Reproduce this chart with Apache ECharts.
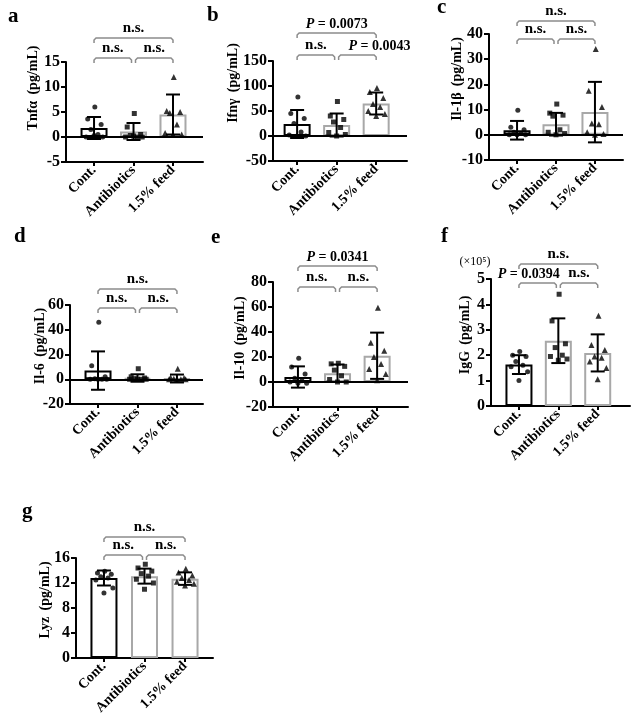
<!DOCTYPE html>
<html><head><meta charset="utf-8">
<script src="https://cdn.jsdelivr.net/npm/echarts@6/dist/echarts.min.js"></script>
<style>html,body{margin:0;padding:0;background:#fff}#c{width:632px;height:720px}</style>
</head><body><div id="c"></div>
<script>
// ---------- data ----------
const CATEGORIES = ['Cont.', 'Antibiotics', '1.5% feed'];

const tnfMean = [1.8, 1.1, 4.5];
const tnfSD = [2.2, 1.7, 4.0];
const tnfPoints = [[6.0, 3.6, 2.5, 1.5, 0.5, 0, 0, 0.3], [4.7, 2.0, 0.5, 0.3, 0, 0, 0, 0.2], [12.0, 5.2, 5.0, 4.8, 2.5, 0.8, 0.5, 0.5]];
const tnfSig = ['n.s.', 'n.s.', 'n.s.'];

const ifnMean = [24, 22, 65];
const ifnSD = [28, 23, 22];
const ifnPoints = [[78, 45, 35, 25, 8, 2, 0, 0], [69, 40, 33, 28, 17, 7, 3, 0], [96, 88, 76, 64, 58, 50, 44, 40]];
const ifnSig = ['n.s.', 'P = 0.0043', 'P = 0.0073'];

const il1bMean = [1.8, 4.2, 9.0];
const il1bSD = [3.7, 4.5, 12.0];
const il1bPoints = [[9.7, 3, 2, 1, 0.5, 0, 0, 0], [12.2, 8.6, 7.8, 7.4, 2, 1, 0.5, 0], [34, 17.5, 11, 4.5, 4.2, 1, 0.3, 0]];
const il1bSig = ['n.s.', 'n.s.', 'n.s.'];

const il6Mean = [7.0, 1.0, 0.6];
const il6SD = [15.5, 3.0, 3.2];
const il6Points = [[46, 11, 2, 0.5, 0, 0, 0, 0], [8.5, 2, 1, 0.5, 0, 0, 0, 0], [8.5, 1.5, 1, 0.5, 0, 0, 0, 0]];
const il6Sig = ['n.s.', 'n.s.', 'n.s.'];

const il10Mean = [4.0, 7.0, 21.0];
const il10SD = [8.5, 7.0, 18.5];
const il10Points = [[19, 12, 6.5, 3, 1, 0, -1, -1], [15, 14.5, 12.5, 9.5, 5, 2, 0, 0], [59.5, 31.5, 25, 20, 14.5, 10.5, 6.5, 1.5]];
const il10Sig = ['n.s.', 'n.s.', 'P = 0.0341'];

const iggMean = [1.63, 2.57, 2.09];
const iggSD = [0.37, 0.88, 0.73];
const iggPoints = [[2.15, 2.0, 1.95, 1.75, 1.6, 1.55, 1.35, 1.0], [4.4, 3.35, 2.45, 2.3, 2.0, 1.95, 1.85, 1.8], [3.55, 2.4, 2.2, 1.95, 1.9, 1.75, 1.5, 1.05]];
const iggSig = ['P = 0.0394', 'n.s.', 'n.s.'];

const lyzMean = [12.8, 13.1, 12.7];
const lyzSD = [1.2, 1.2, 1.0];
const lyzPoints = [[13.9, 13.6, 13.4, 13.0, 12.8, 12.5, 11.2, 10.4], [15.0, 14.4, 13.9, 13.5, 13.1, 12.6, 12.0, 11.0], [14.3, 13.7, 13.2, 12.8, 12.5, 12.2, 11.9, 11.6]];
const lyzSig = ['n.s.', 'n.s.', 'n.s.'];

// ---------- layout / style ----------
const FONT = '"Liberation Serif", "Times New Roman", serif';
const JITTER = [0.02, -0.16, 0.18, -0.08, 0.1, -0.2, 0.22, 0.0];
const SYMBOLS = ['circle', 'rect', 'triangle'];
const SYMSIZE = [5, 5, 6];
const BORDER = ['#000000', '#a8a8a8', '#a8a8a8'];
const BRACKET_COLOR = '#8c8c8c';

const panels = [
  {letter:'a', name:'Tnf\u03b1 \u2009(pg/mL)', mean:tnfMean, sd:tnfSD, pts:tnfPoints, sig:tnfSig, y:[-5,15,5],
   box:[66,62,137,100], xr:[-0.71,2.76], lp:[8,27], np:[33,88], br:[58,38], zero:true, dx:[0,0,0]},
  {letter:'b', name:'Ifn\u03b3 \u2009(pg/mL)', mean:ifnMean, sd:ifnSD, pts:ifnPoints, sig:ifnSig, y:[-50,150,50],
   box:[273,61,134,100], xr:[-0.61,2.78], lp:[207,26], np:[233,83], br:[55,33], zero:true, dx:[0,22,0]},
  {letter:'c', name:'Il-1\u03b2 \u2009(pg/mL)', mean:il1bMean, sd:il1bSD, pts:il1bPoints, sig:il1bSig, y:[-10,40,10],
   box:[489,34,134,126], xr:[-0.72,2.72], lp:[437,18], np:[457,79], br:[39,21], zero:true, dx:[0,0,0]},
  {letter:'d', name:'Il-6 \u2009(pg/mL)', mean:il6Mean, sd:il6SD, pts:il6Points, sig:il6Sig, y:[-20,60,20],
   box:[70,305,133,99], xr:[-0.71,2.66], lp:[14,247], np:[40,346], br:[308,289], zero:true, dx:[0,0,0]},
  {letter:'e', name:'Il-10 \u2009(pg/mL)', mean:il10Mean, sd:il10SD, pts:il10Points, sig:il10Sig, y:[-20,80,20],
   box:[273,282,135,125], xr:[-0.63,2.78], lp:[211,248], np:[240,338], br:[287,266], zero:true, dx:[0,0,0]},
  {letter:'f', name:'IgG \u2009(pg/mL)', mean:iggMean, sd:iggSD, pts:iggPoints, sig:iggSig, y:[0,5,1],
   box:[491,279,139,127], xr:[-0.71,2.82], lp:[441,247], np:[465,335], br:[283,264], zero:false, dx:[-9,0,0]},
  {letter:'g', name:'Lyz \u2009(pg/mL)', mean:lyzMean, sd:lyzSD, pts:lyzPoints, sig:lyzSig, y:[0,16,4],
   box:[76,558,137,100], xr:[-0.69,2.69], lp:[22,522], np:[45,600], br:[555,537], zero:false, dx:[0,0,0]}
];

function richLabel(s) {
  return s.indexOf('P') === 0 ? '{i|P}' + s.slice(1) : s;
}

const grid = [], xAxis = [], yAxis = [], series = [], graphic = [];

panels.forEach((P, i) => {
  grid.push({left:P.box[0], top:P.box[1], width:P.box[2], height:P.box[3], containLabel:false});
  xAxis.push({
    type:'value', gridIndex:i, min:P.xr[0], max:P.xr[1],
    axisLine:{show:true, onZero:false, lineStyle:{color:'#000', width:2}},
    axisTick:{show:true, customValues:[0,1,2], length:4, lineStyle:{color:'#000', width:2}},
    axisLabel:{show:true, customValues:[0,1,2], rotate:45, margin:6, color:'#000',
      fontFamily:FONT, fontWeight:'bold', fontSize:14,
      formatter:v => CATEGORIES[Math.round(v)]},
    splitLine:{show:false}
  });
  yAxis.push({
    type:'value', gridIndex:i, min:P.y[0], max:P.y[1], interval:P.y[2],
    axisLine:{show:true, onZero:false, lineStyle:{color:'#000', width:2}},
    axisTick:{show:true, length:5, lineStyle:{color:'#000', width:2}},
    axisLabel:{color:'#000', fontFamily:FONT, fontWeight:'bold', fontSize:16, margin:6},
    splitLine:{show:false}
  });

  const bar = {
    type:'bar', xAxisIndex:i, yAxisIndex:i, barWidth:27, z:2, silent:true,
    data:P.mean.map((m, j) => ({value:[j, m], itemStyle:{borderColor:BORDER[j]}})),
    itemStyle:{color:'#ffffff', borderWidth:2}
  };
  if (P.zero) {
    bar.markLine = {silent:true, symbol:'none', label:{show:false}, z:5,
      lineStyle:{color:'#000', width:2, type:'solid'}, data:[{yAxis:0}]};
  }
  series.push(bar);

  series.push({
    type:'custom', xAxisIndex:i, yAxisIndex:i, z:3, silent:true,
    encode:{x:0, y:[1,2]},
    data:P.mean.map((m, j) => [j, m - P.sd[j], m + P.sd[j]]),
    renderItem:(params, api) => {
      const x = api.value(0);
      const hi = api.coord([x, api.value(2)]);
      const lo = api.coord([x, api.value(1)]);
      const cw = 7;
      const st = {stroke:'#000', lineWidth:2};
      return {type:'group', children:[
        {type:'line', shape:{x1:hi[0], y1:hi[1], x2:lo[0], y2:lo[1]}, style:st},
        {type:'line', shape:{x1:hi[0]-cw, y1:hi[1], x2:hi[0]+cw, y2:hi[1]}, style:st},
        {type:'line', shape:{x1:lo[0]-cw, y1:lo[1], x2:lo[0]+cw, y2:lo[1]}, style:st}
      ]};
    }
  });

  P.pts.forEach((arr, j) => {
    series.push({
      type:'scatter', xAxisIndex:i, yAxisIndex:i, z:4, silent:true,
      symbol:SYMBOLS[j], symbolSize:SYMSIZE[j],
      itemStyle:{color:'#000'},
      data:arr.map((v, k) => [j + JITTER[k], v])
    });
  });

  // significance brackets: [from, to, level, sigIndex]
  series.push({
    type:'custom', xAxisIndex:i, yAxisIndex:i, z:6, silent:true, clip:false,
    encode:{x:[0,1]},
    data:[[0,1,0,0],[1,2,0,1],[0,2,1,2]],
    renderItem:(params, api) => {
      const from = api.value(0), to = api.value(1), level = api.value(2), idx = api.value(3);
      let x1 = api.coord([from, P.y[0]])[0], x2 = api.coord([to, P.y[0]])[0];
      if (level === 0) { if (from === 1) x1 += 2; if (to === 1) x2 -= 2; }
      const y = level === 0 ? P.br[0] : P.br[1];
      const d = 5;
      const txt = P.sig[idx];
      const isP = txt.indexOf('P') === 0;
      return {type:'group', children:[
        {type:'polyline', shape:{points:[[x1,y+d],[x1,y+2],[x1+2,y],[x2-2,y],[x2,y+2],[x2,y+d]]},
          style:{stroke:BRACKET_COLOR, lineWidth:1.5, fill:null}},
        {type:'text', x:(x1+x2)/2 + (P.dx[idx]||0), y:y-2,
          style:{text:richLabel(txt), fill:'#000', fontFamily:FONT, fontWeight:'bold', fontSize:isP?14:15,
            align:'center', verticalAlign:'bottom',
            rich:{i:{fontStyle:'italic', fontWeight:'bold', fontFamily:FONT, fontSize:14, fill:'#000'}}}}
      ]};
    }
  });

  graphic.push({type:'text', x:P.lp[0], y:P.lp[1], silent:true,
    style:{text:P.letter, font:'bold 21px ' + FONT, fill:'#000', textAlign:'left', textVerticalAlign:'bottom'}});
  graphic.push({type:'text', x:P.np[0], y:P.np[1], rotation:Math.PI/2, silent:true,
    style:{text:P.name, font:'bold 14px ' + FONT, fill:'#000', textAlign:'center', textVerticalAlign:'middle'}});
});

graphic.push({type:'text', x:475, y:262, silent:true,
  style:{text:'(\u00d710\u2075)', font:'12px ' + FONT, fill:'#000', textAlign:'center', textVerticalAlign:'middle'}});

const chart = echarts.init(document.getElementById('c'), null, {renderer:'canvas'});
chart.setOption({
  animation:false,
  backgroundColor:'#ffffff',
  grid, xAxis, yAxis, series, graphic
});
</script></body></html>
